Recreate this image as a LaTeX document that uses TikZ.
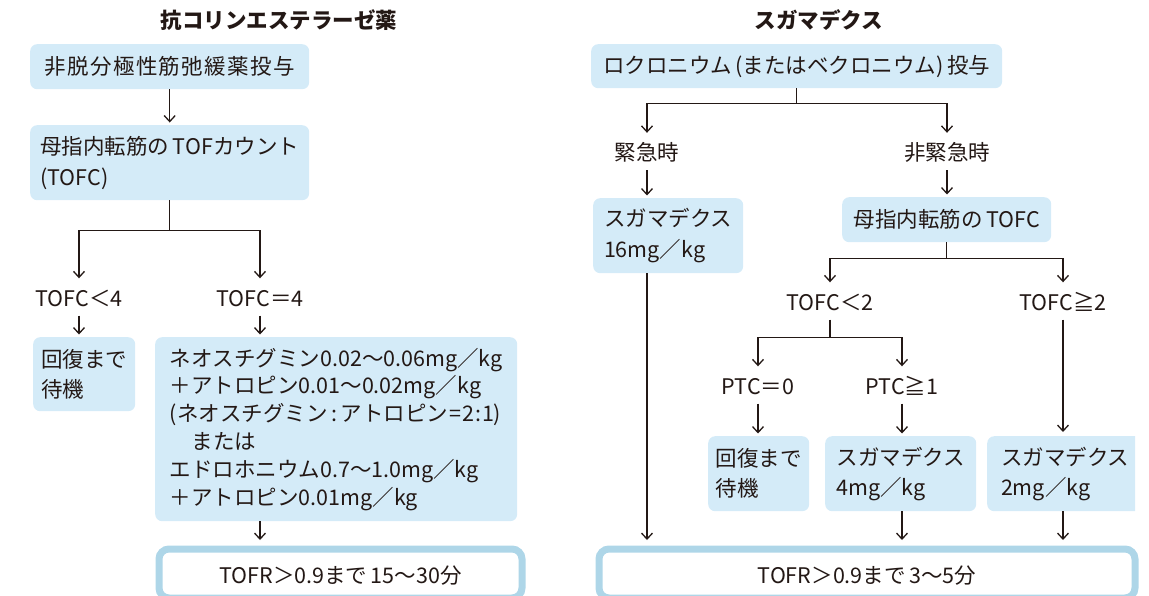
\documentclass[tikz,border=0pt]{standalone}
\usepackage{fontspec}
\setmainfont{Noto Sans CJK JP}
\usetikzlibrary{arrows.meta}
\definecolor{ink}{HTML}{231815}
\definecolor{boxblue}{HTML}{D4EBF8}
\definecolor{frameblue}{HTML}{AED6E8}
\begin{document}
\begin{tikzpicture}[x=1pt,y=-1pt,
  font=\fontsize{21.5}{27.8}\selectfont, text=ink,
  box/.style={fill=boxblue, rounded corners=7pt, inner sep=0pt, align=left, anchor=north west},
  lab/.style={inner sep=0pt, minimum height=37pt, text height=18pt, text depth=0pt},
  ttl/.style={inner sep=0pt, font=\fontsize{21.5}{24}\selectfont\bfseries},
  ln/.style={draw=ink, line width=1.3pt},
  arr/.style={ln, -{Straight Barb[length=6pt,width=11pt]}},
  arrbox/.style={arr, shorten >=2.5pt},
  arrfin/.style={arr, shorten >=5.5pt},
  final/.style={draw=frameblue, line width=7pt, rounded corners=10pt, fill=white, inner sep=0pt,
    anchor=north west, minimum height=49pt, text height=20pt, text depth=0pt}]
\useasboundingbox (0,0) rectangle (1149,595);
\clip (0,0) rectangle (1149,595);

% ---------- left: anticholinesterase ----------
\node[ttl] (tl) at (279,20) {抗コリンエステラーゼ薬};
\node[box, minimum width=279pt, minimum height=45pt] (b1) at (30,44) {\addfontfeature{LetterSpace=6.5}非脱分極性筋弛緩薬投与};
\node[box, minimum width=279pt, minimum height=75pt] (b2) at (30,125) {母指内転筋の\,TOFカウント\\[3pt](TOFC)};
\node[lab] (l1) at (79,297) {TOFC＜4};
\node[lab] (l2) at (260,297) {TOFC＝4};
\node[box, minimum width=102pt, minimum height=74pt] (b3) at (33,337) {回復まで\\[1.5pt]待機};
\node[box, minimum width=362pt, minimum height=184pt] (b4) at (155,337) {ネオスチグミン0.02〜0.06mg／kg\\＋アトロピン0.01〜0.02mg／kg\\(ネオスチグミン\,:\,アトロピン\kern1pt=\kern1pt2\kern1pt:\kern1pt1)\\\hspace*{22pt}または\\エドロホニウム0.7〜1.0mg／kg\\＋アトロピン0.01mg／kg};
\node[final, minimum width=363pt] (f1) at (155.5,545.5) {TOFR＞0.9まで\,15〜30分};

\draw[arrbox] (b1.south) -- (b2.north);
\draw[ln] (b2.south) -- ++(0,30) coordinate (j1);
\draw[arr] (j1) -| (l1.north);
\draw[arr] (j1) -| (l2.north);
\draw[arrbox] (l1.south) -- (l1.south |- b3.north);
\draw[arrbox] (l2.south) -- (l2.south |- b4.north);
\draw[arrfin] (l2 |- b4.south) -- (l2 |- f1.north);

% ---------- right: sugammadex ----------
\node[ttl] (tr) at (819,20) {スガマデクス};
\node[box, minimum width=411pt, minimum height=44pt] (r1) at (591,44) {ロクロニウム\,(またはベクロニウム)\,投与};
\node[lab] (e1) at (647,151.5) {緊急時};
\node[lab] (e2) at (947,151.5) {非緊急時};
\node[box, minimum width=150pt, minimum height=75pt] (r2) at (593,198) {スガマデクス\\[3pt]16mg／kg};
\node[box, minimum width=209pt, minimum height=45pt] (r3) at (842,197) {母指内転筋の\,TOFC};
\node[lab] (t1) at (830,301) {TOFC＜2};
\node[lab] (t2) at (1063,301) {TOFC≧2};
\node[lab] (p1) at (758,385) {PTC＝0};
\node[lab] (p2) at (902,385) {PTC≧1};
\node[box, minimum width=101pt, minimum height=75pt] (r4) at (708,436) {回復まで\\[2pt]待機};
\node[box, minimum width=151pt, minimum height=75pt] (r5) at (825,436) {スガマデクス\\[2pt]4mg／kg};
\begin{scope}
\clip (0,0) rectangle (1135,595);
\node[box, minimum width=156pt, minimum height=75pt] (r6) at (987,436) {スガマデクス\\[2pt]2mg／kg};
\end{scope}
\node[final, minimum width=536pt] (f2) at (595.5,545.5) {TOFR＞0.9まで\,3〜5分};

\draw[ln] (r1.south) -- ++(0,15) coordinate (j2);
\draw[arr] (j2) -| (e1.north);
\draw[arr] (j2) -| (e2.north);
\draw[arrbox] (e1.south) -- (e1.south |- r2.north);
\draw[arrbox] (e2.south) -- (e2.south |- r3.north);
\draw[ln] (r3.south) -- ++(0,16) coordinate (j3);
\draw[arr] (j3) -| (t1.north);
\draw[arr] (j3) -| (t2.north);
\draw[ln] (t1.south) -- ++(0,18) coordinate (j4);
\draw[arr] (j4) -| (p1.north);
\draw[arr] (j4) -| (p2.north);
\draw[arrbox] (p1.south) -- (p1.south |- r4.north);
\draw[arrbox] (p2.south) -- (p2.south |- r5.north);
\draw[arr, shorten >=4pt] (t2.south) -- (t2.south |- r6.north);
\draw[arrfin] (e1 |- r2.south) -- (e1 |- f2.north);
\draw[arrfin] (p2 |- r5.south) -- (p2 |- f2.north);
\draw[arrfin] (t2 |- r6.south) -- (t2 |- f2.north);
\end{tikzpicture}
\end{document}
